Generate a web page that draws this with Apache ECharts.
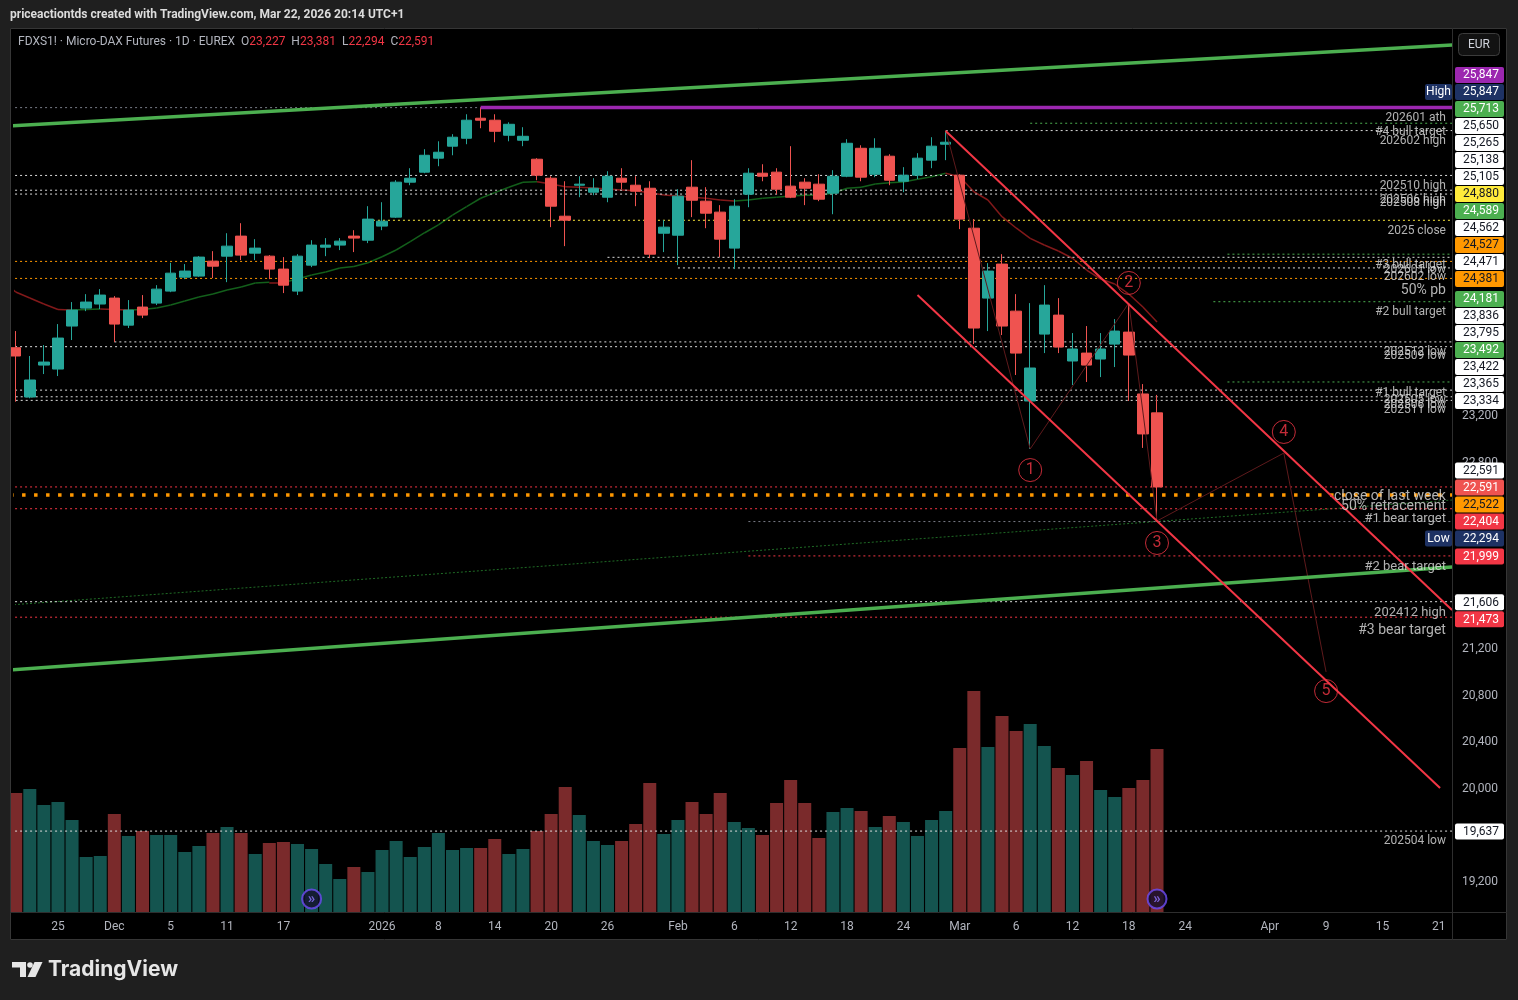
<!DOCTYPE html>
<html>
<head>
<meta charset="utf-8">
<title>FDXS1! Micro-DAX Futures 1D</title>
<script src="https://cdn.jsdelivr.net/npm/echarts@6/dist/echarts.min.js"></script>
<style>
  html, body { margin: 0; padding: 0; background: #1f1f1f; }
  #chart { width: 1518px; height: 1000px; }
</style>
</head>
<body>
<div id="chart"></div>
<script>
// trading days, the last 21 are empty future bars
var dates = [
  '2025-11-20','2025-11-21','2025-11-24','2025-11-25','2025-11-26','2025-11-27','2025-11-28',
  '2025-12-01','2025-12-02','2025-12-03','2025-12-04','2025-12-05',
  '2025-12-08','2025-12-09','2025-12-10','2025-12-11','2025-12-12',
  '2025-12-15','2025-12-16','2025-12-17','2025-12-18','2025-12-19',
  '2025-12-22','2025-12-23','2025-12-29','2025-12-30',
  '2026-01-02','2026-01-05','2026-01-06','2026-01-07','2026-01-08','2026-01-09',
  '2026-01-12','2026-01-13','2026-01-14','2026-01-15','2026-01-16',
  '2026-01-19','2026-01-20','2026-01-21','2026-01-22','2026-01-23',
  '2026-01-26','2026-01-27','2026-01-28','2026-01-29','2026-01-30',
  '2026-02-02','2026-02-03','2026-02-04','2026-02-05','2026-02-06',
  '2026-02-09','2026-02-10','2026-02-11','2026-02-12','2026-02-13',
  '2026-02-16','2026-02-17','2026-02-18','2026-02-19','2026-02-20',
  '2026-02-23','2026-02-24','2026-02-25','2026-02-26','2026-02-27',
  '2026-03-02','2026-03-03','2026-03-04','2026-03-05','2026-03-06',
  '2026-03-09','2026-03-10','2026-03-11','2026-03-12','2026-03-13',
  '2026-03-16','2026-03-17','2026-03-18','2026-03-19','2026-03-20',
  '2026-03-23','2026-03-24','2026-03-25','2026-03-26','2026-03-27',
  '2026-03-30','2026-03-31','2026-04-01','2026-04-02',
  '2026-04-07','2026-04-08','2026-04-09','2026-04-10',
  '2026-04-13','2026-04-14','2026-04-15','2026-04-16','2026-04-17',
  '2026-04-20','2026-04-21','2026-04-22'
];

// time axis labels
var tickDates = ['2025-11-25','2025-12-01','2025-12-05','2025-12-11','2025-12-17','2026-01-02',
  '2026-01-08','2026-01-14','2026-01-20','2026-01-26','2026-02-02','2026-02-06','2026-02-12',
  '2026-02-18','2026-02-24','2026-03-02','2026-03-06','2026-03-12','2026-03-18','2026-03-24',
  '2026-04-01','2026-04-09','2026-04-15','2026-04-21'];
var tickTexts = ['25','Dec','5','11','17','2026','8','14','20','26','Feb','6','12','18','24',
  'Mar','6','12','18','24','Apr','9','15','21'];

// price axis ticks that are not hidden behind tags
var priceTicks = [19200, 20000, 20400, 20800, 21200, 22800, 23200];

// daily bars: [open, high, low, close]
var ohlc = [
  [23786,23929,23323,23715],[23363,23715,23352,23509],[23637,23809,23560,23663],[23603,23989,23543,23869],
  [23972,24178,23852,24109],[24126,24246,24100,24178],[24161,24289,24118,24238],[24212,24229,23835,23989],
  [23980,24195,23955,24109],[24135,24238,24040,24066],[24169,24323,24152,24289],[24272,24515,24263,24426],
  [24392,24504,24375,24444],[24401,24572,24395,24564],[24529,24615,24384,24486],[24572,24769,24349,24658],
  [24744,24855,24538,24581],[24598,24718,24538,24641],[24572,24581,24375,24461],[24461,24564,24255,24323],
  [24272,24589,24238,24572],[24495,24709,24478,24667],[24649,24727,24572,24667],[24667,24727,24624,24701],
  [24744,24795,24607,24727],[24709,25001,24684,24890],[24830,25035,24795,24872],[24907,25224,24900,25207],
  [25207,25327,25181,25241],[25293,25490,25284,25438],[25413,25558,25344,25464],[25516,25619,25438,25593],
  [25584,25790,25533,25739],[25756,25847,25670,25739],[25739,25790,25550,25644],[25610,25721,25558,25704],
  [25567,25679,25516,25601],[25404,25413,25224,25267],[25241,25258,24821,25001],[24915,25215,24658,24881],
  [25181,25258,25078,25190],[25121,25241,25095,25155],[25078,25301,25035,25258],[25241,25327,25147,25207],
  [25181,25258,25001,25130],[25155,25215,24555,24589],[24769,24881,24607,24821],[24752,25147,24495,25087],
  [25164,25396,24907,25052],[25044,25164,24812,24941],[24950,25010,24564,24718],[24641,25061,24461,25001],
  [25104,25327,24992,25284],[25284,25361,25215,25258],[25293,25327,25104,25147],[25173,25516,25070,25078],
  [25207,25241,25010,25155],[25190,25275,25044,25061],[25113,25310,24932,25258],[25258,25576,25250,25541],
  [25498,25524,25215,25250],[25275,25584,25250,25498],[25430,25447,25181,25224],[25215,25336,25121,25267],
  [25267,25456,25233,25413],[25396,25593,25327,25516],[25533,25653,25396,25550],[25267,25275,24804,24890],
  [24812,24890,23818,23955],[24212,24512,23929,24444],[24504,24589,23895,23972],[24100,24246,23552,23740],
  [23329,24169,22917,23612],[23903,24323,23740,24152],[24066,24212,23740,23792],[23672,23912,23466,23775],
  [23740,23972,23492,23637],[23689,23912,23534,23775],[23817,24032,23620,23929],[23920,24161,23329,23723],
  [23389,23474,22926,23046],[23227,23381,22294,22591]
];

// contracts per day
var volumes = [
  29750,30750,26750,27500,23000,13750,14000,24500,19000,20250,19250,19250,15000,16500,19750,21250,
  19750,14500,17250,17500,17000,15750,12000,8250,11250,10000,15500,17750,13750,16250,19750,15500,
  16000,16000,18250,14500,15750,20250,24500,31250,24250,17750,16750,17750,22000,32250,19500,23000,
  27500,24500,29750,22500,21000,19250,27250,33000,27250,18500,25000,26000,25250,21250,24000,22500,
  19000,23000,25250,41000,55250,41250,49000,45250,47000,41500,36000,34250,37750,30500,28750,31000,
  33000,40750
];

// moving average
var maLine = [
  24264,24213,24161,24114,24110,24114,24118,24114,24110,24114,24127,24153,24187,24221,24247,24282,
  24307,24342,24348,24346,24376,24410,24436,24470,24483,24516,24567,24625,24696,24771,24840,24925,
  24997,25069,25117,25163,25206,25211,25191,25168,25163,25157,25149,25140,25134,25117,25097,25088,
  25077,25069,25054,25046,25054,25069,25077,25088,25094,25097,25112,25155,25163,25191,25203,25209,
  25232,25254,25283,25254,25125,25054,24911,24814,24725,24668,24616,24554,24453,24376,24333,24247,
  24136,24007
];
var maLeftEdge = 24305; // value of the average where it enters the chart on the left

// drawn trend lines: [barFrom, priceFrom, barTo, priceTo]
var greenChannel = [[-0.4, 25689, 101.94, 26385], [-0.4, 21020, 101.94, 21904]];
var redChannel = [[66, 25646, 101.94, 21535], [64, 24239, 101.09, 20007]];
var longTrend = [-0.4, 21578, 101.94, 22479];
// wave count path
var wavePath = [[66, 25655], [72, 22917], [79, 24170], [81, 22299], [90, 22882], [93, 21003]];
var waveMarks = [[72, 22736, '1'], [79, 24342, '2'], [81, 22110, '3'], [90, 23063, '4'], [93, 20839, '5']];

// horizontal levels
var levelPrices = [25713, 25650, 25265, 25138, 25105, 24880, 24589, 24562, 24527, 24471, 24381, 24181,
  23836, 23795, 23492, 23422, 23365, 23334, 22591, 22522, 22404, 22294, 21999, 21606, 21473, 19637];
var levelStart = ['2026-03-09','2026-02-27',null,null,null,'2025-12-30','2026-03-27','2026-01-26',null,
  '2026-02-02',null,'2026-03-26','2025-12-01',null,'2026-03-27',null,'2025-11-20','2025-11-20',null,null,
  null,'2026-02-09','2026-02-09',null,null,null];
var levelKind = ['green','white','white','white','white','yellow','green','white','orange','white','orange',
  'green','white','white','green','white','white','white','red','heavy','red','gray','red','white','red','white'];
var athPrice = 25847, athDate = '2026-01-13';

// level names written on the chart
var noteTexts = ['202601 ath','#4 bull target','202602 high','202510 high','202506 high','202508 high',
  '2025 close','#3 bull target','202601 low','202602 low','50% pb','#2 bull target','202512 low',
  '202509 low','#1 bull target','202505 low','202506 low','202511 low','close of last week',
  '50% retracement','#1 bear target','#2 bear target','202412 high','#3 bear target','202504 low'];
var notePrices = [25758,25638,25560,25174,25054,25028,24788,24496,24453,24393,24273,24093,23749,
  23715,23397,23337,23294,23252,22505,22419,22316,21904,21509,21363,19552];
var noteBig = ['50% pb','close of last week','50% retracement','#3 bear target'];
var noteMid = ['#1 bear target','#2 bear target','202412 high'];

// price scale tags, top to bottom
var tagPrices = [25847,25847,25713,25650,25265,25138,25105,24880,24589,24562,24527,24471,24381,24181,
  23836,23795,23492,23422,23365,23334,22591,22591,22522,22404,22294,21999,21606,21473,19637];
var tagKind = ['purple','high','green','white','white','white','white','yellow','green','white','orange',
  'white','orange','green','white','white','green','white','white','white','white','close','orange',
  'red','low','red','white','red','white'];

var eventDates = ['2025-12-19', '2026-03-20'];

var UP = '#26a69a', DOWN = '#ef5350';
var FONT = 'Roboto, "Noto Sans", sans-serif';
var VIEW_L = -0.4, VIEW_R = 101.94, NOTE_X = 101.51;

function fmt(v) {
  return String(v).replace(/\B(?=(\d{3})+(?!\d))/g, ',');
}

var lineStyles = {
  white: { color: '#dcdcdc', width: 1, type: [2, 3] },
  green: { color: '#4caf50', width: 1, type: [2, 3] },
  yellow: { color: '#ffeb3b', width: 1, type: [2, 3] },
  orange: { color: '#ff9800', width: 1, type: [2, 3] },
  red: { color: '#f23645', width: 1, type: [2, 3] },
  gray: { color: '#787b86', width: 1, type: [2, 3] },
  heavy: { color: '#ff9800', width: 3.5, type: [3.5, 8.5] }
};
var tagStyles = {
  purple: { bg: '#9c27b0', fg: '#ffffff' },
  high: { bg: '#1e3264', fg: '#ffffff', pre: 'High' },
  low: { bg: '#1e3264', fg: '#ffffff', pre: 'Low' },
  green: { bg: '#4caf50', fg: '#ffffff' },
  white: { bg: '#ffffff', fg: '#131722' },
  yellow: { bg: '#ffeb3b', fg: '#131722' },
  orange: { bg: '#ff9800', fg: '#131722' },
  red: { bg: '#f23645', fg: '#ffffff' },
  close: { bg: '#ef5350', fg: '#ffffff', anchor: true }
};

function segment(x1, y1, x2, y2, style, z) {
  return {
    type: 'line', xAxisIndex: 2, yAxisIndex: 0, data: [[x1, y1], [x2, y2]],
    showSymbol: false, symbol: 'none', clip: false, silent: true, z: z || 4,
    lineStyle: style
  };
}

var chart = echarts.init(document.getElementById('chart'));

var series = [];

// volume
series.push({
  type: 'bar', xAxisIndex: 1, yAxisIndex: 1, barWidth: 13, clip: false, z: 1, silent: true,
  data: volumes.map(function (v, i) {
    var up = ohlc[i][3] >= ohlc[i][0];
    return { value: v, itemStyle: { color: up ? '#14544f' : '#7a2a2b' } };
  })
});

// horizontal level lines
levelPrices.forEach(function (p, i) {
  var from = levelStart[i] ? dates.indexOf(levelStart[i]) : VIEW_L;
  series.push(segment(from, p, VIEW_R, p, lineStyles[levelKind[i]], 3));
});
series.push(segment(VIEW_L, athPrice, dates.indexOf(athDate), athPrice, lineStyles.gray, 3));
series.push(segment(dates.indexOf(athDate), athPrice, VIEW_R, athPrice, { color: '#9c27b0', width: 3.5 }, 4));

// moving average, coloured by direction
var maPts = [[VIEW_L, maLeftEdge]].concat(maLine.map(function (v, i) { return [i, v]; }));
var maSegs = [];
for (var i = 0; i < maPts.length - 1; i++) {
  maSegs.push({
    coords: [maPts[i], maPts[i + 1]],
    lineStyle: { color: maPts[i + 1][1] >= maPts[i][1] ? '#135f1b' : '#82191a' }
  });
}
series.push({
  type: 'lines', coordinateSystem: 'cartesian2d', xAxisIndex: 2, yAxisIndex: 0,
  polyline: false, data: maSegs, lineStyle: { width: 1.5, opacity: 1 }, silent: true, z: 2
});

// long faint trend line
series.push(segment(longTrend[0], longTrend[1], longTrend[2], longTrend[3],
  { color: '#1f6b25', width: 1, type: [2, 2] }, 2));

// candles
series.push({
  type: 'candlestick', xAxisIndex: 0, yAxisIndex: 0, barWidth: 11, clip: false, z: 3, silent: true,
  data: ohlc.map(function (d) { return [d[0], d[3], d[2], d[1]]; }),
  itemStyle: { color: UP, color0: DOWN, borderColor: UP, borderColor0: DOWN, borderWidth: 1 }
});

// wave path and channels
series.push({
  type: 'line', xAxisIndex: 2, yAxisIndex: 0, data: wavePath, showSymbol: false, symbol: 'none',
  clip: false, silent: true, z: 4, lineStyle: { color: '#5e1a1c', width: 1 }
});
greenChannel.forEach(function (l) {
  series.push(segment(l[0], l[1], l[2], l[3], { color: '#4caf50', width: 3.5 }, 5));
});
redChannel.forEach(function (l) {
  series.push(segment(l[0], l[1], l[2], l[3], { color: '#f23645', width: 2 }, 5));
});

// wave numbers
series.push({
  type: 'scatter', xAxisIndex: 2, yAxisIndex: 0, symbol: 'circle', symbolSize: 23, silent: true, z: 6,
  data: waveMarks.map(function (m) { return [m[0], m[1], m[2]]; }),
  itemStyle: { color: 'rgba(0,0,0,0)', borderColor: '#f23645', borderWidth: 1 },
  label: {
    show: true, position: 'inside', color: '#f23645', fontSize: 16, fontFamily: FONT,
    formatter: function (p) { return p.data[2]; }
  }
});

// level notes
series.push({
  type: 'scatter', xAxisIndex: 2, yAxisIndex: 0, symbolSize: 0.1, silent: true, z: 7,
  itemStyle: { color: 'rgba(0,0,0,0)' },
  data: noteTexts.map(function (t, i) {
    var fs = noteBig.indexOf(t) >= 0 ? 14 : (noteMid.indexOf(t) >= 0 ? 13 : 12);
    return { value: [NOTE_X, notePrices[i], t], label: { fontSize: fs } };
  }),
  label: {
    show: true, position: 'left', distance: 0, color: '#dedede', fontFamily: FONT,
    formatter: function (p) { return p.data.value[2]; }
  }
});

// event markers in the volume pane
series.push({
  type: 'scatter', xAxisIndex: 1, yAxisIndex: 1, symbol: 'circle', symbolSize: 19, silent: true, z: 8,
  data: eventDates.map(function (d) { return [d, 3250]; }),
  itemStyle: { color: '#140f2c', borderColor: '#6e4cf5', borderWidth: 2 },
  label: { show: true, position: 'inside', formatter: '\u00bb', color: '#8f74ff', fontSize: 15, fontWeight: 'bold' }
});

var frame = [
  { type: 'rect', shape: { x: 0, y: 0, width: 1518, height: 28 }, style: { fill: '#1f1f1f' }, z: 50 },
  { type: 'rect', shape: { x: 0, y: 940, width: 1518, height: 60 }, style: { fill: '#1f1f1f' }, z: 50 },
  { type: 'rect', shape: { x: 0, y: 0, width: 10, height: 1000 }, style: { fill: '#1f1f1f' }, z: 50 },
  { type: 'rect', shape: { x: 1507, y: 0, width: 11, height: 1000 }, style: { fill: '#1f1f1f' }, z: 50 },
  { type: 'rect', shape: { x: 10.5, y: 28.5, width: 1496, height: 911 }, style: { fill: null, stroke: '#363636', lineWidth: 1 }, z: 51 },
  { type: 'line', shape: { x1: 1452.5, y1: 28, x2: 1452.5, y2: 940 }, style: { stroke: '#2e2e2e', lineWidth: 1 }, z: 51 },
  { type: 'line', shape: { x1: 10, y1: 912.5, x2: 1507, y2: 912.5 }, style: { stroke: '#2e2e2e', lineWidth: 1 }, z: 51 },
  {
    type: 'text', x: 10, y: 15, z: 52,
    style: { text: 'priceactiontds created with TradingView.com, Mar 22, 2026 20:14 UTC+1', fill: '#dcdcdc',
      font: 'bold 12px ' + FONT, textVerticalAlign: 'middle', verticalAlign: 'middle' }
  },
  {
    type: 'text', x: 18, y: 42, z: 52,
    style: {
      text: '{a|FDXS1! \u00b7 Micro-DAX Futures \u00b7 1D \u00b7 EUREX  O}{r|23,227}{a|  H}{r|23,381}{a|  L}{r|22,294}{a|  C}{r|22,591}',
      font: '12px ' + FONT, textVerticalAlign: 'middle', verticalAlign: 'middle',
      rich: { a: { fill: '#b2b5be', fontSize: 12, fontFamily: FONT }, r: { fill: '#f23645', fontSize: 12, fontFamily: FONT } }
    }
  },
  { type: 'rect', shape: { x: 1458.5, y: 33.5, width: 41, height: 22, r: 4 }, style: { fill: '#121212', stroke: '#3c3c3c' }, z: 52 },
  {
    type: 'text', x: 1479, y: 45, z: 53,
    style: { text: 'EUR', fill: '#d1d4dc', font: '12px ' + FONT, textAlign: 'center', align: 'center',
      textVerticalAlign: 'middle', verticalAlign: 'middle' }
  },
  // TradingView logo
  { type: 'polygon', shape: { points: [[12, 962], [26, 962], [26, 977], [20, 977], [20, 967.5], [12, 967.5]] }, style: { fill: '#e6e6e6' }, z: 52 },
  { type: 'circle', shape: { cx: 30, cy: 965, r: 2.8 }, style: { fill: '#e6e6e6' }, z: 52 },
  { type: 'polygon', shape: { points: [[34.5, 962], [42.5, 962], [35.5, 977], [27.5, 977]] }, style: { fill: '#e6e6e6' }, z: 52 },
  {
    type: 'text', x: 48, y: 970, z: 52,
    style: { text: 'TradingView', fill: '#e6e6e6', font: 'bold 21px Inter, ' + FONT,
      textVerticalAlign: 'middle', verticalAlign: 'middle' }
  }
];

var option = {
  backgroundColor: '#000000',
  animation: false,
  textStyle: { fontFamily: FONT },
  grid: [
    { left: 15.7, right: 65.1, top: 43.2, bottom: 71.4 },
    { left: 15.7, right: 65.1, top: 612, bottom: 88 }
  ],
  xAxis: [
    { type: 'category', gridIndex: 0, data: dates, boundaryGap: false, show: false },
    {
      type: 'category', gridIndex: 1, data: dates, boundaryGap: false,
      axisLine: { show: false }, axisTick: { show: false }, splitLine: { show: false },
      axisLabel: {
        interval: 0, margin: 9, color: '#b2b5be', fontSize: 12, fontFamily: FONT,
        formatter: function (v) {
          var k = tickDates.indexOf(v);
          return k >= 0 ? tickTexts[k] : '';
        }
      }
    },
    { type: 'value', gridIndex: 0, min: 0, max: dates.length - 1, show: false }
  ],
  yAxis: [
    {
      type: 'value', gridIndex: 0, position: 'right', min: 18800, max: 26400, interval: 400, z: 10,
      axisLine: { show: false }, axisTick: { show: false }, splitLine: { show: false },
      axisLabel: {
        margin: 9, color: '#b2b5be', fontSize: 12, fontFamily: FONT,
        formatter: function (v) { return priceTicks.indexOf(v) >= 0 ? fmt(v) : ''; }
      }
    },
    { type: 'value', gridIndex: 1, min: 0, max: 75000, show: false }
  ],
  graphic: frame,
  series: series
};

chart.setOption(option);

// price tags: the close stays on its price, others are pushed away from it
var trueY = tagPrices.map(function (p) { return chart.convertToPixel({ yAxisIndex: 0 }, p); });
var placed = trueY.slice();
var anchor = 0;
tagKind.forEach(function (k, i) { if (tagStyles[k].anchor) anchor = i; });
for (var a = anchor - 1; a >= 0; a--) placed[a] = Math.min(trueY[a], placed[a + 1] - 17);
for (var b = anchor + 1; b < tagPrices.length; b++) placed[b] = Math.max(trueY[b], placed[b - 1] + 17);

var tagEls = [];
tagPrices.forEach(function (p, i) {
  var st = tagStyles[tagKind[i]];
  var y = placed[i] + 0.5;
  tagEls.push({ type: 'rect', shape: { x: 1455, y: y - 8, width: 49, height: 16, r: 2 }, style: { fill: st.bg }, z: 60 });
  tagEls.push({
    type: 'text', x: 1499, y: y + 0.5, z: 61,
    style: { text: fmt(p), fill: st.fg, font: '12px ' + FONT, textAlign: 'right', align: 'right',
      textVerticalAlign: 'middle', verticalAlign: 'middle' }
  });
  if (st.pre) {
    tagEls.push({ type: 'rect', shape: { x: 1425, y: y - 8, width: 27, height: 16, r: 2 }, style: { fill: st.bg }, z: 60 });
    tagEls.push({
      type: 'text', x: 1438.5, y: y + 0.5, z: 61,
      style: { text: st.pre, fill: st.fg, font: '12px ' + FONT, textAlign: 'center', align: 'center',
        textVerticalAlign: 'middle', verticalAlign: 'middle' }
    });
  }
});

chart.setOption({ graphic: frame.concat(tagEls) });
</script>
</body>
</html>
